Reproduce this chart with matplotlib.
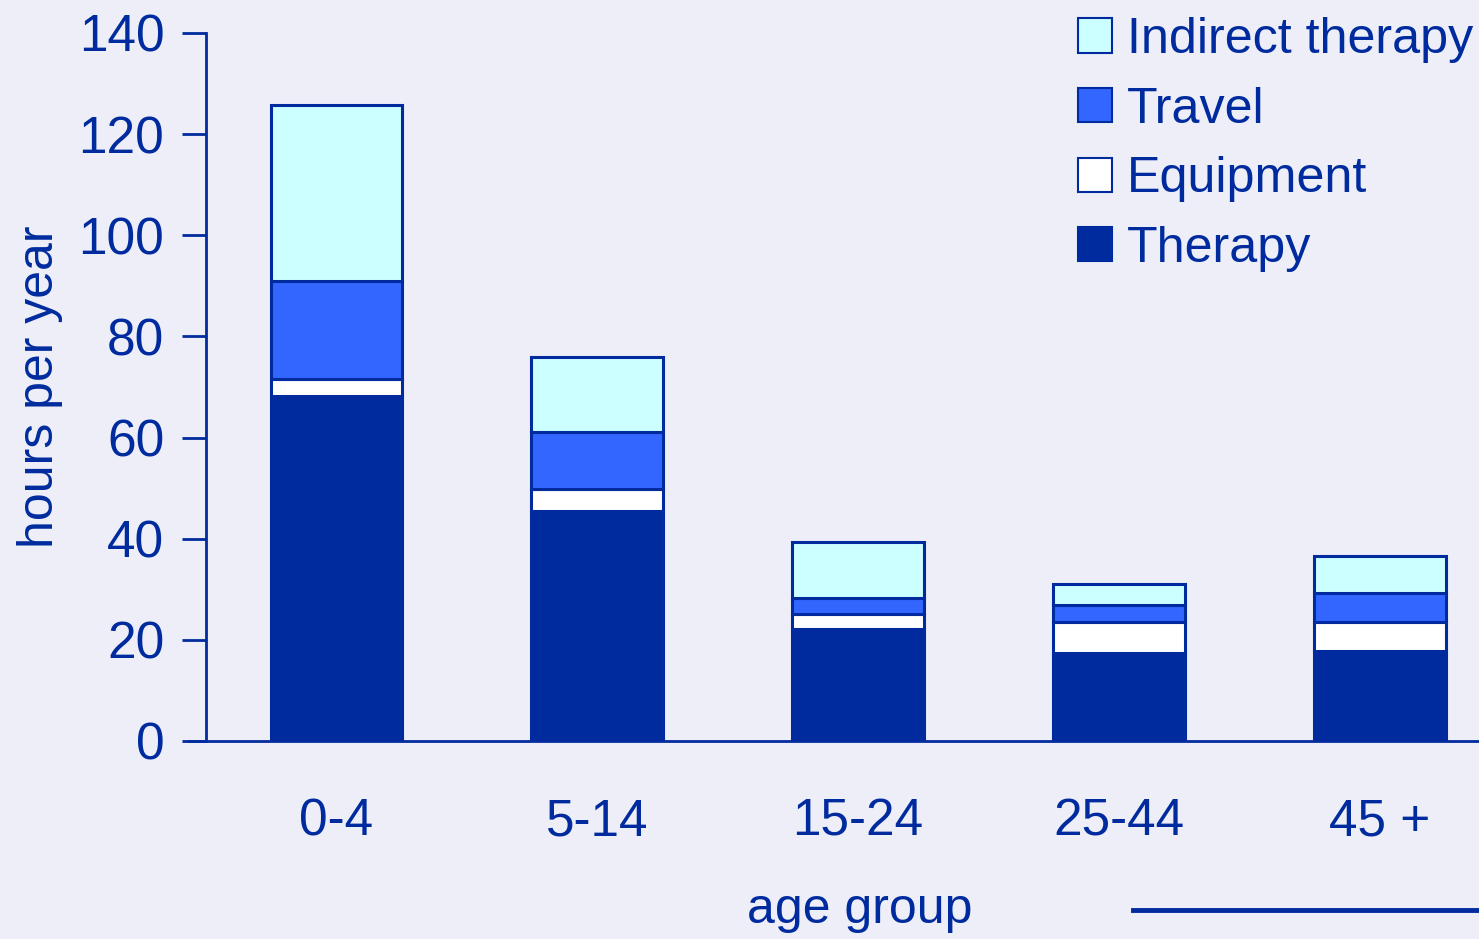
import matplotlib.pyplot as plt
from matplotlib.patches import Patch
from matplotlib.lines import Line2D

plt.rcParams['font.family'] = ['Liberation Sans', 'DejaVu Sans']

# Data (hours per year)
age_groups = ['0-4', '5-14', '15-24', '25-44', '45 +']
therapy = [68.2, 45.5, 22.1, 17.4, 17.8]
equipment = [3.4, 4.3, 3.0, 6.1, 5.7]
travel = [19.4, 11.3, 3.2, 3.4, 5.8]
indirect = [34.8, 14.8, 11.1, 4.1, 7.3]

navy = '#002b9e'
bg = '#edeef7'
colors = {'Therapy': navy, 'Equipment': '#ffffff', 'Travel': '#3366ff', 'Indirect therapy': '#ccffff'}

fig = plt.figure(figsize=(14.79, 9.39), dpi=100, facecolor=bg)
ax = fig.add_axes([189 / 1479, 1 - 741 / 939, 1 - 189 / 1479, (741 - 33) / 939])
ax.set_facecolor(bg)

x = range(len(age_groups))
bottom = [0] * len(age_groups)
for name, vals in [('Therapy', therapy), ('Equipment', equipment),
                   ('Travel', travel), ('Indirect therapy', indirect)]:
    ax.bar(x, vals, width=0.505, bottom=bottom, color=colors[name],
           edgecolor=navy, linewidth=2.2, zorder=3)
    bottom = [b + v for b, v in zip(bottom, vals)]

ax.set_ylim(0, 140)
ax.set_xlim(-0.565, 4.38)
ax.set_yticks(range(0, 141, 20))
ax.set_xticks(list(x))
ax.set_xticklabels(age_groups)

for s in ['top', 'right']:
    ax.spines[s].set_visible(False)
ax.spines['left'].set_position(('data', -0.5))
ax.spines['left'].set_color(navy)
ax.spines['bottom'].set_color(navy)
ax.spines['left'].set_linewidth(2)
ax.spines['bottom'].set_linewidth(2)
ax.tick_params(axis='y', colors=navy, labelsize=37, length=17, width=2, pad=13)
ax.tick_params(axis='x', colors=navy, labelsize=37, length=0, pad=41)

ax.set_ylabel('hours per year', color=navy, fontsize=36, labelpad=11)
fig.text(860 / 1479, 1 - 910 / 939, 'age group', color=navy, fontsize=36,
         ha='center', va='center')
fig.add_artist(Line2D([1133 / 1479, 1.0], [1 - 910 / 939, 1 - 910 / 939],
                      color=navy, linewidth=3.5))

handles = [Patch(facecolor=colors[n], edgecolor=navy, linewidth=1.5, label=n)
           for n in ['Indirect therapy', 'Travel', 'Equipment', 'Therapy']]
fig.legend(handles=handles, loc='upper left', bbox_to_anchor=(1033 / 1479, 1.03),
           frameon=False, fontsize=36.2, labelcolor=navy, handlelength=0.67,
           handleheight=0.67, handletextpad=0.3, labelspacing=0.47)

fig.savefig('out.png', dpi=100, facecolor=bg)
